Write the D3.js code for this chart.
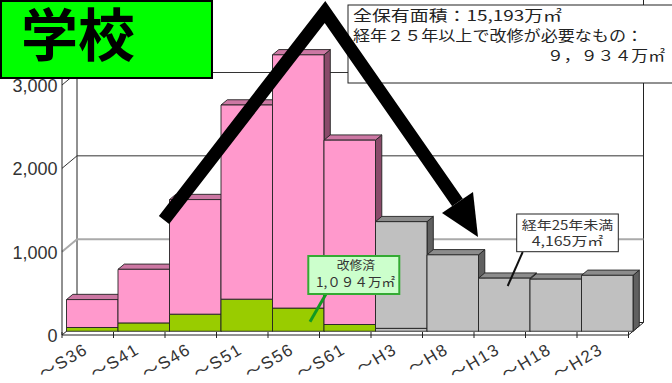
<!DOCTYPE html>
<html><head><meta charset="utf-8">
<script src="https://cdn.jsdelivr.net/npm/d3@7"></script>
<style>html,body{margin:0;padding:0;background:#fff;}svg{display:block;}</style>
</head><body>
<svg id="c" width="672" height="383"></svg>
<script>
// ---- data ----
const categories = ["～S36","～S41","～S46","～S51","～S56","～S61","～H3","～H8","～H13","～H18","～H23"];
const renovated = [45,100,205,385,278,81,0,0,0,0,0];            // 改修済
const needsRenovation = [335,643,1375,2330,3039,2212,0,0,0,0,0]; // 経年25年以上で改修が必要
const under25Base = [0,0,0,0,0,0,35,0,0,0,0];
const under25 = [0,0,0,0,0,0,1280,917,637,625,671];             // 経年25年未満
const yTicks = [0,1000,2000,3000];

const svg = d3.select("#c");
const x = d3.scaleBand().domain(categories).range([62, 628.5]).padding(0);
const y = d3.scaleLinear().domain([0,3000]).range([335,85]);
const DX = 15, DY = -12.5;
const P = (px, v, t) => [px + DX*t, y(v) + DY*t];
const line = d3.line();
const dark = "#222";

// back wall & left wall
const wl = x.range()[0], wr = x.range()[1];
svg.append("line").attr("x1",wl+DX).attr("y1",-5).attr("x2",wl+DX).attr("y2",y(0)+DY).attr("stroke",dark);
svg.append("line").attr("x1",wr+DX).attr("y1",-5).attr("x2",wr+DX).attr("y2",y(0)+DY).attr("stroke",dark);
yTicks.filter(v=>v>0).forEach(v=>{
  const col = v===1000 ? "#aaa" : "#333";
  const w = v===1000 ? 2 : 1;
  const a = P(wl,v,1), b = P(wr,v,1);
  svg.append("line").attr("x1",a[0]).attr("y1",a[1]).attr("x2",b[0]).attr("y2",b[1]).attr("stroke",col).attr("stroke-width",w);
  svg.append("line").attr("x1",wl).attr("y1",y(v)).attr("x2",a[0]).attr("y2",a[1]).attr("stroke",col).attr("stroke-width",w);
});
// floor
svg.append("path").attr("d", line([P(wl,0,0),P(wr,0,0),P(wr,0,1),P(wl,0,1)])+"Z")
  .attr("fill","#fff").attr("stroke",dark);
svg.append("line").attr("x1",wl).attr("y1",-5).attr("x2",wl).attr("y2",y(0)).attr("stroke",dark);
// floor ticks
d3.range(categories.length+1).forEach(i=>{
  const px = wl + i*x.bandwidth();
  svg.append("line").attr("x1",px).attr("x2",px).attr("y1",y(0)-3).attr("y2",y(0)+3).attr("stroke",dark);
});

// bars
const series = [
  {vals: renovated, front:"#99CC00", top:"#7AA300", side:"#5C7A00"},
  {vals: needsRenovation, front:"#FF99CC", top:"#CC77A3", side:"#8A4A6A"},
  {vals: under25Base, front:"#C0C0C0", top:"#8C8C8C", side:"#606060"},
  {vals: under25, front:"#C0C0C0", top:"#8C8C8C", side:"#606060"}
];
const t0 = 0.3, t1 = 0.72;
const bw = x.bandwidth();
categories.forEach((c,i)=>{
  const x0 = x(c), x1 = x0 + bw;
  let acc = 0;
  series.forEach(s=>{
    const v = s.vals[i];
    if (!v) return;
    const lo = acc, hi = acc + v; acc = hi;
    const g = svg.append("g").attr("stroke",dark).attr("stroke-width",0.9).attr("stroke-linejoin","round");
    g.append("path").attr("d", line([P(x1,lo,t0),P(x1,hi,t0),P(x1,hi,t1),P(x1,lo,t1)])+"Z").attr("fill",s.side);
    g.append("path").attr("d", line([P(x0,hi,t0),P(x1,hi,t0),P(x1,hi,t1),P(x0,hi,t1)])+"Z").attr("fill",s.top);
    g.append("path").attr("d", line([P(x0,lo,t0),P(x1,lo,t0),P(x1,hi,t0),P(x0,hi,t0)])+"Z").attr("fill",s.front);
  });
});

// category labels
categories.forEach(c=>{
  svg.append("text").attr("transform",`translate(${x(c)+bw/2-5},342) rotate(-31)`)
    .attr("text-anchor","end").attr("dy","0.72em")
    .attr("font-family","'Liberation Sans','Noto Sans CJK JP',sans-serif").attr("font-size",17)
    .attr("letter-spacing","1.5px")
    .attr("fill","#333").text(c);
});
// y labels
yTicks.forEach(v=>{
  svg.append("text").attr("x",57.5).attr("y",y(v)+1).attr("text-anchor","end")
    .attr("dominant-baseline","central")
    .attr("font-family","'Liberation Sans',Arial,sans-serif").attr("font-size",18)
    .attr("fill","#333").text(d3.format(",")(v));
});

const jp = "'Noto Sans CJK JP',sans-serif";
// top-right annotation box
svg.append("rect").attr("x",348).attr("y",5).attr("width",340).attr("height",78).attr("fill","#fff").attr("stroke",dark);
[["全保有面積：15,193万㎡",353,21,209],["経年２５年以上で改修が必要なもの：",353,41,290],["９，９３４万㎡",547,61,118]].forEach(d=>{
  svg.append("text").attr("x",d[1]).attr("y",d[2]).attr("textLength",d[3]).attr("lengthAdjust","spacingAndGlyphs")
    .attr("font-family",jp).attr("font-size",14.5).attr("fill","#222").text(d[0]);
});

// 経年25年未満 box
svg.append("line").attr("x1",522.7).attr("y1",252).attr("x2",507.7).attr("y2",286).attr("stroke","#111").attr("stroke-width",2);
svg.append("rect").attr("x",516.7).attr("y",214).attr("width",101.6).attr("height",37.7).attr("fill","#fff").attr("stroke",dark);
[["経年25年未満",521.7,230,91.6],["4,165万㎡",531.7,245.5,71.6]].forEach(d=>{
  svg.append("text").attr("x",d[1]).attr("y",d[2]).attr("textLength",d[3]).attr("lengthAdjust","spacingAndGlyphs")
    .attr("font-family",jp).attr("font-size",12.5).attr("fill","#333").text(d[0]);
});

// 改修済 box
svg.append("line").attr("x1",326).attr("y1",294).attr("x2",310).attr("y2",321.7).attr("stroke","#119922").attr("stroke-width",3);
svg.append("rect").attr("x",308.3).attr("y",256).attr("width",91).attr("height",38).attr("fill","#CCFFCC").attr("stroke","#33AA33").attr("stroke-width",2);
[["改修済",336.7,270,38.3],["1,０９４万㎡",316,287,79]].forEach(d=>{
  svg.append("text").attr("x",d[1]).attr("y",d[2]).attr("textLength",d[3]).attr("lengthAdjust","spacingAndGlyphs")
    .attr("font-family",jp).attr("font-size",12.5).attr("fill","#333").text(d[0]);
});

// big arrow
svg.append("path").attr("d","M164,220 L325,12 L457.5,202.5").attr("fill","none")
  .attr("stroke","#000").attr("stroke-width",13).attr("stroke-linejoin","miter").attr("stroke-miterlimit",6);
svg.append("path").attr("d","M478,237 L442,213 L473,192 Z").attr("fill","#000");

// title box
svg.append("rect").attr("x",1).attr("y",1).attr("width",211).attr("height",77).attr("fill","#00FF00").attr("stroke","#000").attr("stroke-width",2);
svg.append("text").attr("x",21).attr("y",56).attr("font-family",jp).attr("font-weight","bold")
  .attr("font-size",57).attr("fill","#000").text("学校");
</script>
</body></html>
